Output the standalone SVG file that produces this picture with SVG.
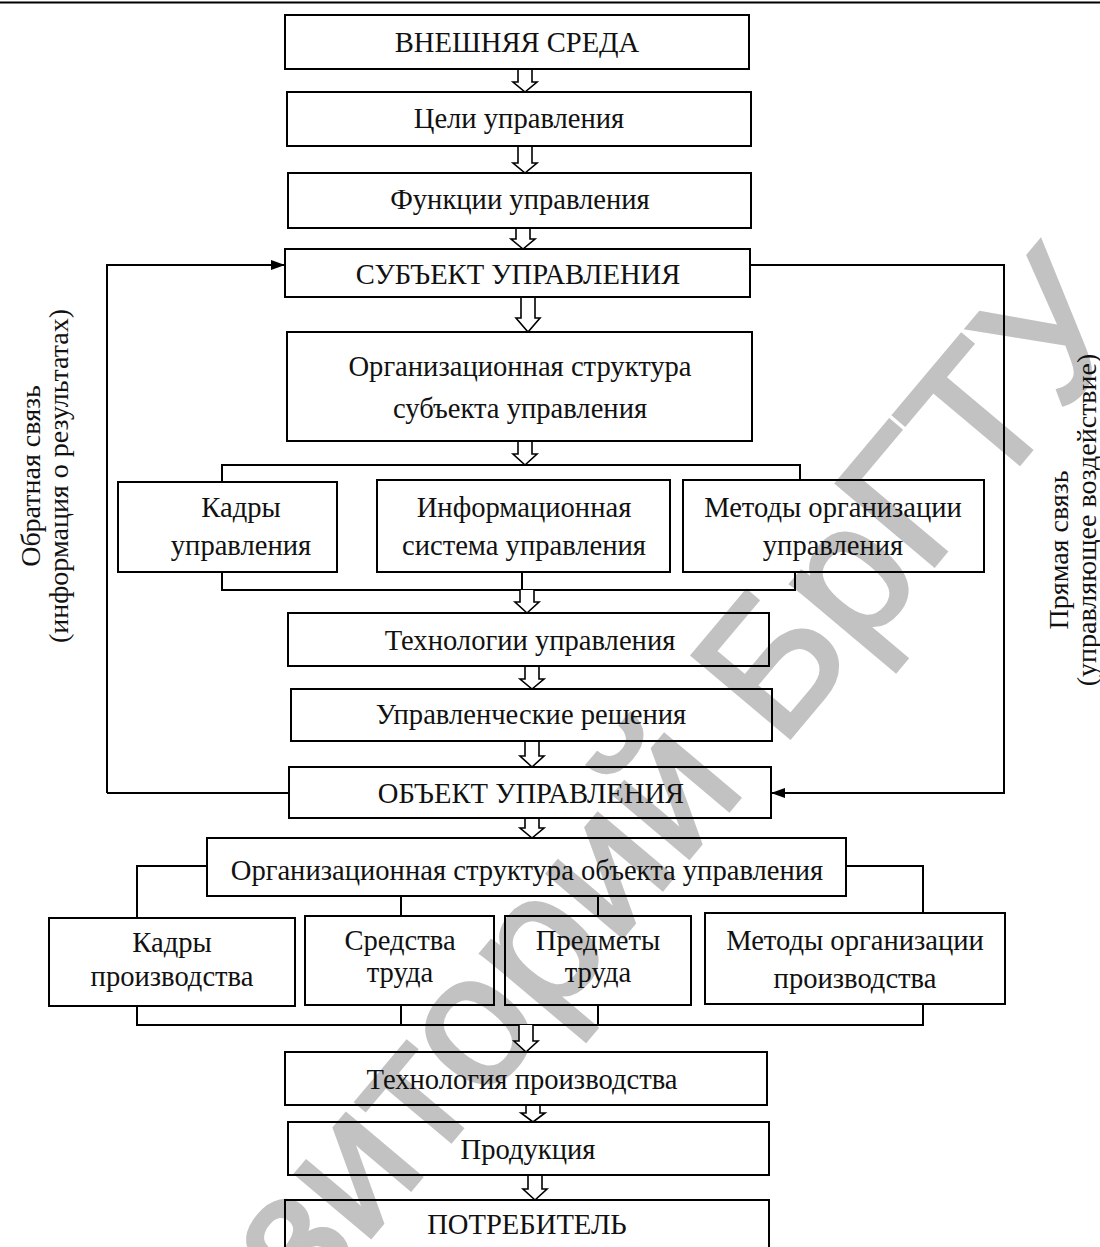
<svg xmlns="http://www.w3.org/2000/svg" width="1100" height="1247" viewBox="0 0 1100 1247">
<defs>
<style>
.box{fill:none;stroke:#000;stroke-width:2}
.t{font-family:"Liberation Serif","Times New Roman",serif;font-size:28.6px;fill:#111;text-anchor:middle}
.s{font-family:"Liberation Serif","Times New Roman",serif;font-size:28px;fill:#111;text-anchor:middle}
.ln{fill:none;stroke:#000;stroke-width:2}
.ha{fill:#fff;stroke:#000;stroke-width:1.6}
.wm{font-family:"Liberation Sans",Arial,sans-serif;font-size:185px;fill:#c2c2c2;stroke:#c2c2c2;stroke-width:4;text-anchor:middle}
</style>
<marker id="ah" viewBox="0 0 14 10" refX="14" refY="5" markerWidth="14" markerHeight="10" markerUnits="userSpaceOnUse" orient="auto">
<path d="M0,0 L14,5 L0,10 z" fill="#000"/>
</marker>
</defs>
<rect width="1100" height="1247" fill="#fff"/>
<text class="wm" transform="translate(588,978) rotate(-50)">Репозиторий БрГТУ</text>
<line x1="0" y1="2.5" x2="1100" y2="2.5" stroke="#000" stroke-width="2"/>

<g id="connectors">
<path class="ln" d="M107,793 V265 H285" marker-end="url(#ah)"/>
<path class="ln" d="M107,793 H289"/>
<path class="ln" d="M750,265 H1004 V793 H771" marker-end="url(#ah)"/>
<path class="ln" d="M222,482 V465 H800 V480"/>
<path class="ln" d="M222,572 V590 H795 V572 M522,572 V590"/>
<path class="ln" d="M207,866 H137 V918 M846,866 H923 V913 M401,896 V916 M598,896 V916"/>
<path class="ln" d="M137,1006 V1025 H923 V1004 M401,1005 V1025 M598,1005 V1025"/>
<path class="ha" d="M518,69 V82 H513 L525,92 L537,82 H532 V69"/>
<path class="ha" d="M518,146 V163 H513 L525,173 L537,163 H532 V146"/>
<path class="ha" d="M516,228 V239 H511 L523,249 L535,239 H530 V228"/>
<path class="ha" d="M521,297 V318 H516 L528,332 L540,318 H535 V297"/>
<path class="ha" d="M518,441 V454 H513 L525,465 L537,454 H532 V441"/>
<path class="ha" d="M520,590 V602 H515 L527,613 L539,602 H534 V590"/>
<path class="ha" d="M525,666 V679 H520 L532,689 L544,679 H539 V666"/>
<path class="ha" d="M525,741 V756 H520 L532,767 L544,756 H539 V741"/>
<path class="ha" d="M525,818 V828 H520 L532,838 L544,828 H539 V818"/>
<path class="ha" d="M519,1025 V1041 H514 L526,1052 L538,1041 H533 V1025"/>
<path class="ha" d="M526,1105 V1113 H521 L533,1122 L545,1113 H540 V1105"/>
<path class="ha" d="M528,1175 V1189 H523 L535,1200 L547,1189 H542 V1175"/>
</g>

<g id="n1"><rect class="box" x="285" y="15" width="464" height="54"/><text class="t" x="517" y="52">ВНЕШНЯЯ СРЕДА</text></g>
<g id="n2"><rect class="box" x="287" y="92" width="464" height="54"/><text class="t" x="519" y="128">Цели управления</text></g>
<g id="n3"><rect class="box" x="288" y="173" width="463" height="55"/><text class="t" x="520" y="209">Функции управления</text></g>
<g id="n4"><rect class="box" x="285" y="249" width="465" height="48"/><text class="t" x="518" y="284">СУБЪЕКТ УПРАВЛЕНИЯ</text></g>
<g id="n5"><rect class="box" x="287" y="332" width="465" height="109"/><text class="t" x="520" y="376">Организационная структура</text><text class="t" x="520" y="418">субъекта управления</text></g>
<g id="n6"><rect class="box" x="118" y="482" width="219" height="90"/><text class="t" x="241" y="517">Кадры</text><text class="t" x="241" y="555">управления</text></g>
<g id="n7"><rect class="box" x="377" y="480" width="293" height="92"/><text class="t" x="524" y="517">Информационная</text><text class="t" x="524" y="555">система управления</text></g>
<g id="n8"><rect class="box" x="683" y="480" width="301" height="92"/><text class="t" x="833" y="517">Методы организации</text><text class="t" x="833" y="555">управления</text></g>
<g id="n9"><rect class="box" x="288" y="613" width="481" height="53"/><text class="t" x="530" y="650">Технологии управления</text></g>
<g id="n10"><rect class="box" x="291" y="689" width="481" height="52"/><text class="t" x="531" y="724">Управленческие решения</text></g>
<g id="n11"><rect class="box" x="289" y="767" width="482" height="51"/><text class="t" x="531" y="803">ОБЪЕКТ УПРАВЛЕНИЯ</text></g>
<g id="n12"><rect class="box" x="207" y="838" width="639" height="58"/><text class="t" x="527" y="880">Организационная структура объекта управления</text></g>
<g id="n13"><rect class="box" x="49" y="918" width="246" height="88"/><text class="t" x="172" y="952">Кадры</text><text class="t" x="172" y="986">производства</text></g>
<g id="n14"><rect class="box" x="305" y="916" width="189" height="89"/><text class="t" x="400" y="950">Средства</text><text class="t" x="400" y="982">труда</text></g>
<g id="n15"><rect class="box" x="505" y="916" width="186" height="89"/><text class="t" x="598" y="950">Предметы</text><text class="t" x="598" y="982">труда</text></g>
<g id="n16"><rect class="box" x="705" y="913" width="300" height="91"/><text class="t" x="855" y="950">Методы организации</text><text class="t" x="855" y="988">производства</text></g>
<g id="n17"><rect class="box" x="285" y="1052" width="482" height="53"/><text class="t" x="522" y="1089">Технология производства</text></g>
<g id="n18"><rect class="box" x="288" y="1122" width="481" height="53"/><text class="t" x="528" y="1159">Продукция</text></g>
<g id="n19"><rect class="box" x="285" y="1200" width="484" height="60"/><text class="t" x="527" y="1234">ПОТРЕБИТЕЛЬ</text></g>

<g id="lbl-left"><text class="s" transform="translate(40,476) rotate(-90)">Обратная связь</text><text class="s" transform="translate(68,476) rotate(-90)">(информация о результатах)</text></g>
<g id="lbl-right"><text class="s" transform="translate(1068,550) rotate(-90)">Прямая связь</text><text class="s" transform="translate(1096,520) rotate(-90)">(управляющее воздействие)</text></g>
</svg>
